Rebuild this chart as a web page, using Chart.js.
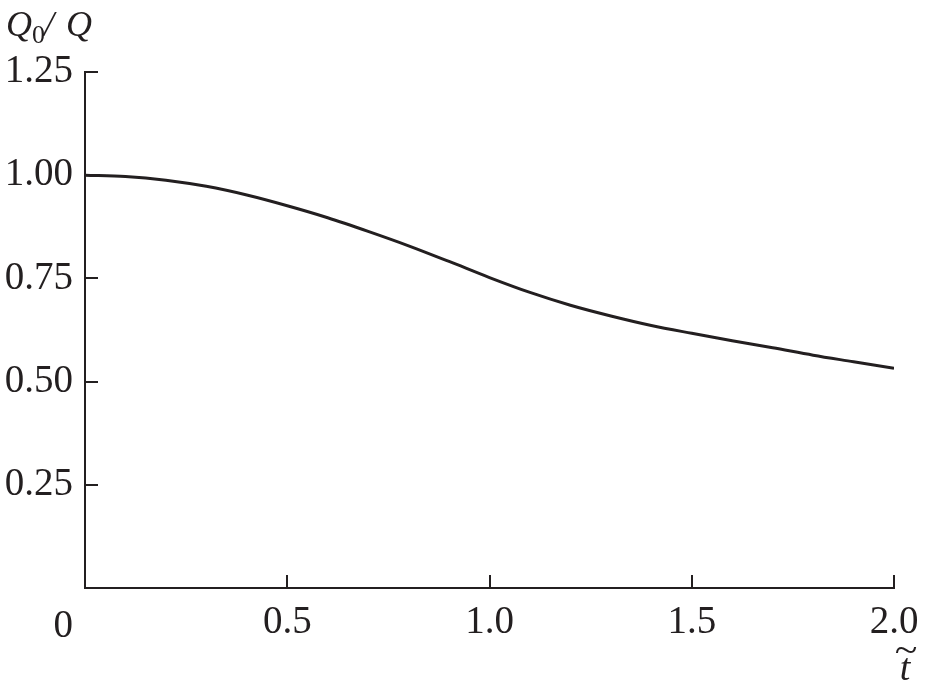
<!DOCTYPE html>
<html><head><meta charset="utf-8">
<script src="https://cdn.jsdelivr.net/npm/chart.js@4/dist/chart.umd.min.js"></script>
<style>html,body{margin:0;padding:0;background:#fff}</style>
</head><body>
<canvas id="c" width="927" height="696"></canvas>
<script>
const tValues = [0, 0.1, 0.2, 0.3, 0.4, 0.5, 0.6, 0.7, 0.8, 0.9, 1.0, 1.1, 1.2, 1.3, 1.4, 1.5, 1.6, 1.7, 1.8, 1.9, 2.0];
const qRatio  = [1.000, 0.997, 0.988, 0.973, 0.952, 0.926, 0.897, 0.864, 0.829, 0.791, 0.752, 0.716, 0.685, 0.659, 0.636, 0.617, 0.599, 0.582, 0.564, 0.548, 0.532];
const xTickValues = [0.5, 1.0, 1.5, 2.0];
const xTickLabels = ['0.5', '1.0', '1.5', '2.0'];
const yTickValues = [0.25, 0.50, 0.75, 1.00, 1.25];
const yTickLabels = ['0.25', '0.50', '0.75', '1.00', '1.25'];
const originLabel = '0';
const yTitleMain = 'Q';
const yTitleSub = '0';
const yTitleSlash = '/';
const yTitleEnd = 'Q';
const xTitle = 't';
const xTitleAccent = '~';

const INK = '#231f20';
const FONT = '"Liberation Serif", "Times New Roman", serif';
const FS = 39;

const decor = {
  id: 'decor',
  afterDraw(chart) {
    const ctx = chart.ctx;
    const xs = chart.scales.x, ys = chart.scales.y;
    const a = chart.chartArea;
    ctx.save();
    ctx.strokeStyle = INK;
    ctx.lineWidth = 2;
    // inward ticks
    xTickValues.forEach(v => {
      const px = Math.round(xs.getPixelForValue(v));
      ctx.beginPath(); ctx.moveTo(px, a.bottom); ctx.lineTo(px, a.bottom - 13); ctx.stroke();
    });
    yTickValues.forEach(v => {
      const py = Math.round(ys.getPixelForValue(v));
      ctx.beginPath(); ctx.moveTo(a.left, py); ctx.lineTo(a.left + 13, py); ctx.stroke();
    });
    ctx.fillStyle = INK;
    // origin label
    ctx.font = FS + 'px ' + FONT;
    ctx.textAlign = 'right';
    ctx.textBaseline = 'alphabetic';
    ctx.fillText(originLabel, a.left - 12, 637);
    // y title
    ctx.textAlign = 'left';
    ctx.font = 'italic 36px ' + FONT;
    ctx.fillText(yTitleMain, 6, 36);
    ctx.font = '26px ' + FONT;
    ctx.fillText(yTitleSub, 32, 43);
    ctx.font = 'italic 36px ' + FONT;
    ctx.fillText(yTitleSlash, 44, 36);
    ctx.fillText(yTitleEnd, 66, 36);
    // x title
    ctx.textAlign = 'center';
    ctx.font = 'italic 38px ' + FONT;
    ctx.fillText(xTitle, 905, 680);
    ctx.font = '38px ' + FONT;
    ctx.save();
    ctx.translate(906, 662);
    ctx.scale(1.1, 1);
    ctx.fillText(xTitleAccent, 0, 0);
    ctx.restore();
    ctx.restore();
  }
};

new Chart(document.getElementById('c'), {
  type: 'line',
  data: {
    datasets: [{
      data: tValues.map((t, i) => ({x: t, y: qRatio[i]})),
      borderColor: INK,
      borderWidth: 3,
      pointRadius: 0,
      fill: false,
      cubicInterpolationMode: 'monotone'
    }]
  },
  options: {
    responsive: false,
    animation: false,
    devicePixelRatio: 1,
    layout: { padding: { left: 0, top: 72, right: 33, bottom: 0 } },
    plugins: { legend: { display: false }, tooltip: { enabled: false }, title: { display: false } },
    scales: {
      x: {
        type: 'linear', min: 0, max: 2,
        grid: { display: false, drawTicks: false },
        border: { display: true, color: INK, width: 2 },
        afterFit: s => { s.height = 108; s.paddingLeft = 0; s.paddingRight = 0; },
        afterBuildTicks: s => { s.ticks = xTickValues.map(v => ({value: v})); },
        ticks: {
          color: INK, font: { family: FONT, size: FS }, padding: 11, maxRotation: 0,
          callback: v => { const i = xTickValues.indexOf(v); return i >= 0 ? xTickLabels[i] : ''; }
        }
      },
      y: {
        type: 'linear', min: 0, max: 1.25,
        grid: { display: false, drawTicks: false },
        border: { display: true, color: INK, width: 2 },
        afterFit: s => { s.width = 85; s.paddingTop = 0; s.paddingBottom = 0; },
        afterBuildTicks: s => { s.ticks = yTickValues.map(v => ({value: v})); },
        ticks: {
          color: INK, font: { family: FONT, size: FS }, padding: 12,
          callback: v => { const i = yTickValues.indexOf(v); return i >= 0 ? yTickLabels[i] : ''; }
        }
      }
    }
  },
  plugins: [decor]
});
</script>
</body></html>
